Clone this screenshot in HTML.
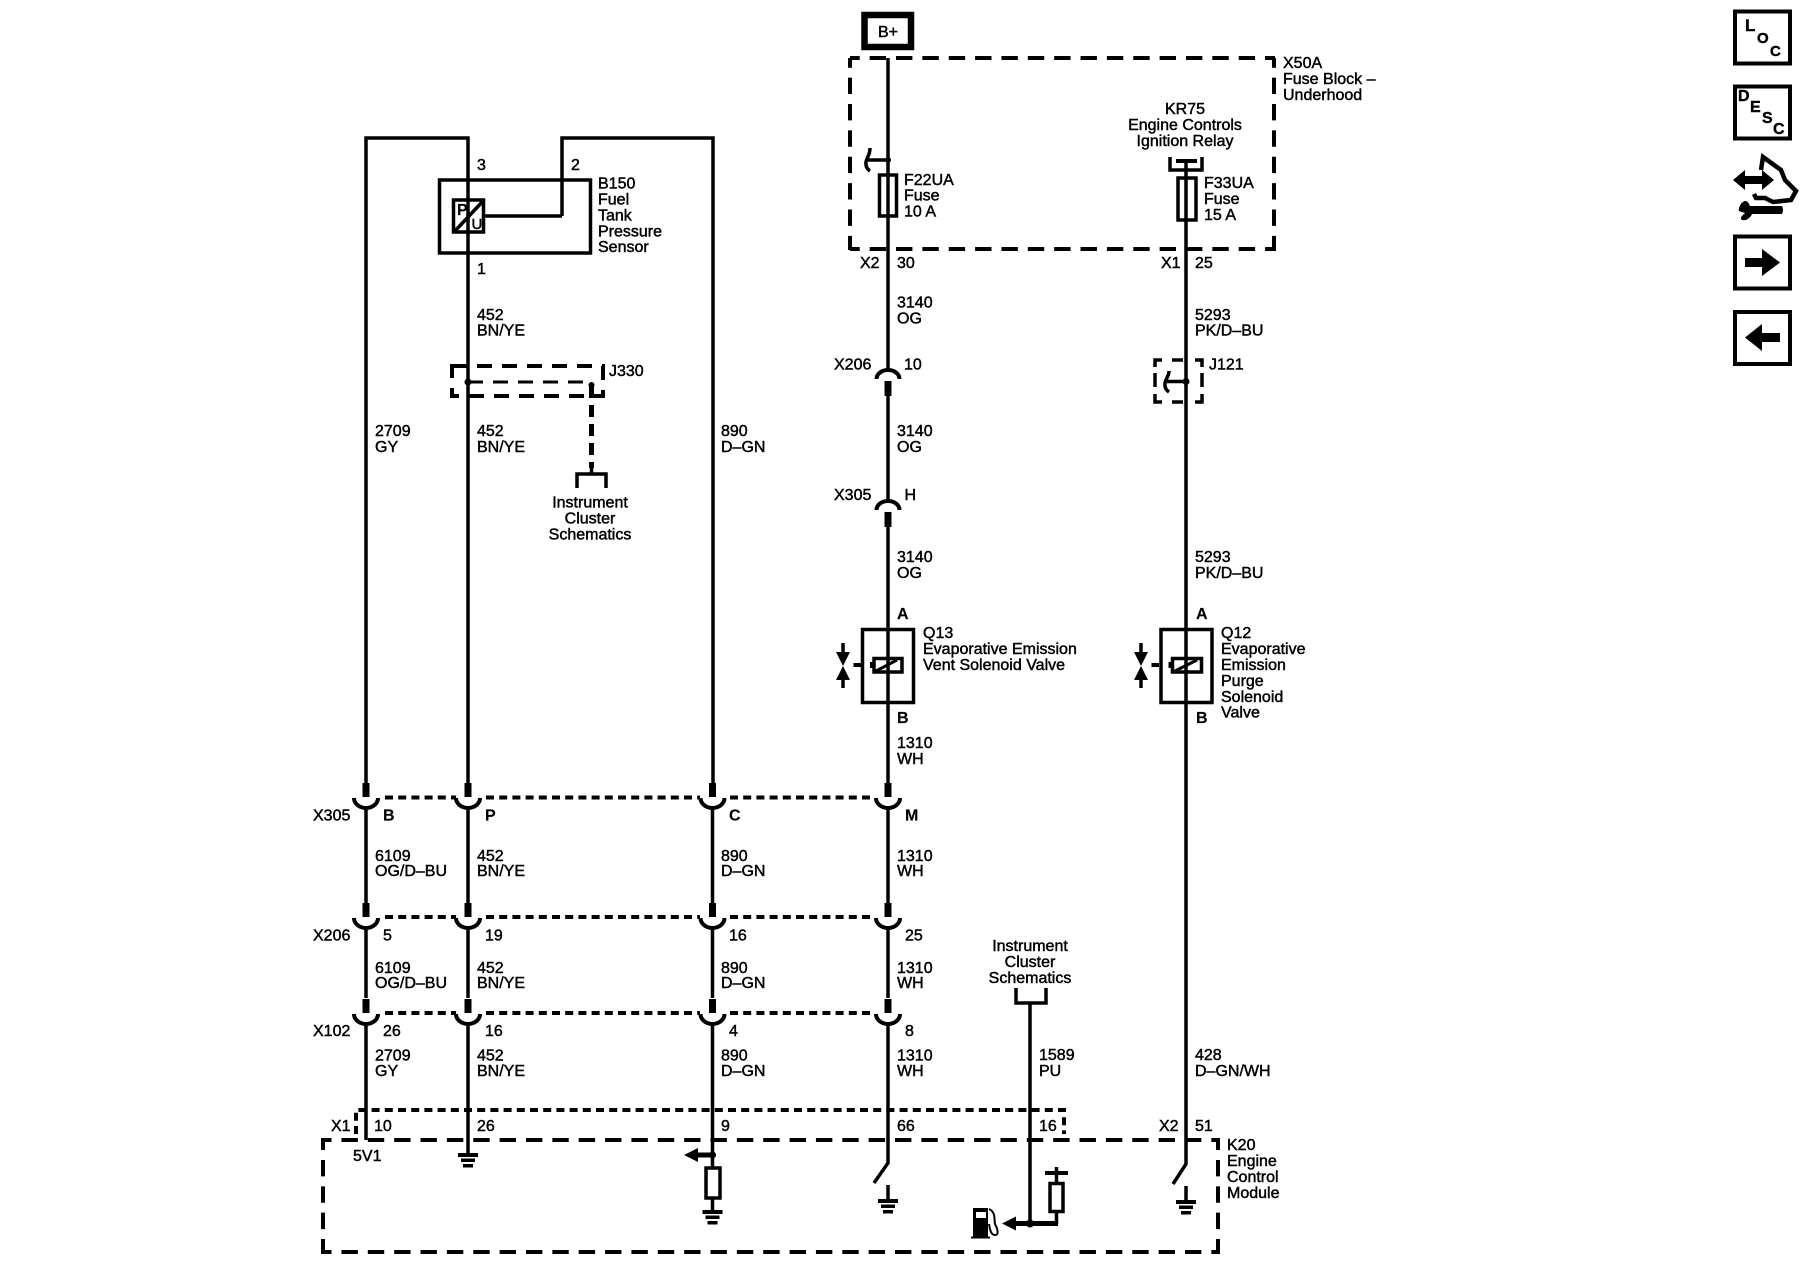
<!DOCTYPE html>
<html><head><meta charset="utf-8"><style>
html,body{margin:0;padding:0;background:#fff}
svg{display:block}
text{font-family:"Liberation Sans",sans-serif;font-size:16px;fill:#000;stroke:#000;stroke-width:.45px}
.m{text-anchor:middle}
.b{font-weight:bold;stroke-width:.15px}
.w{stroke:#000;stroke-width:3.5;fill:none}
.t{stroke:#000;stroke-width:3;fill:none}
.d{stroke:#000;stroke-width:4;fill:none;stroke-dasharray:16.4 9.96}
.s{stroke:#000;stroke-width:4;fill:none;stroke-dasharray:8 5.2}
</style></head><body>
<svg width="1800" height="1280" viewBox="0 0 1800 1280" xmlns="http://www.w3.org/2000/svg">
<defs>
<g id="sm"><rect x="-3.500" y="-14" width="7" height="14" fill="#000"/><path d="M-12 1A12 10 0 0 0 12 1" stroke="#000" stroke-width="4" fill="none"/></g>
<g id="fr"><path d="M-11.500 8A11.500 9 0 0 1 11.500 8" stroke="#000" stroke-width="4" fill="none"/><rect x="-3.500" y="10" width="7" height="15" fill="#000"/></g>
<g id="gnd"><rect x="-10" y="-2" width="20" height="4" fill="#000"/><rect x="-7" y="3.500" width="14" height="3.500" fill="#000"/><rect x="-5" y="9" width="10" height="3.500" fill="#000"/></g>
<g id="nip"><path d="M0 -23V-12" stroke="#000" stroke-width="3.500"/><path d="M-7 -14H7L0 0Z" fill="#000"/><path d="M0 22V12" stroke="#000" stroke-width="3.500"/><path d="M-7 14H7L0 0Z" fill="#000"/><path d="M10.500 -1H18" stroke="#000" stroke-width="4"/></g>
</defs>

<!-- Left wires -->
<path class="w" d="M366 783V138H468V783M562 216V138H713V783M366 808V903M366 928V998M366 1024V1140M468 808V903M468 928V998M468 1024V1154M712.500 808V903M712.500 928V998M712.500 1024V1167M712.500 1198V1211M888 808V903M888 928V998M888 1024V1163L874 1183"/>
<!-- Sensor -->
<rect x="439.500" y="180" width="151" height="73" class="w"/>
<rect x="453.500" y="200" width="30" height="32" class="w"/>
<path class="w" d="M484 216H562M454 232L484 200"/>
<text x="457" y="215" class="b">P</text><text x="471.500" y="229" style="font-size:15px">U</text>
<text x="477" y="170">3</text><text x="571" y="170">2</text><text x="477" y="274">1</text>
<text x="598" y="188.500">B150</text><text x="598" y="204.500">Fuel</text><text x="598" y="220.500">Tank</text><text x="598" y="236.500">Pressure</text><text x="598" y="252">Sensor</text>
<text x="477" y="320">452</text><text x="477" y="335.500">BN/YE</text>
<!-- J330 -->
<path d="M452 366H603V396H452Z" stroke="#000" stroke-width="4" fill="none" stroke-dasharray="15 10"/>
<path d="M468 382H592" stroke="#000" stroke-width="3" fill="none" stroke-dasharray="15 10"/>
<circle cx="468" cy="382" r="3.500"/><circle cx="591.500" cy="385" r="3"/>
<path d="M591.500 386V468" stroke="#000" stroke-width="5" stroke-dasharray="12 7" fill="none"/>
<path class="w" d="M591.500 467V474M577 488V474H606V488"/>
<text x="609" y="376">J330</text>
<text x="375" y="436">2709</text><text x="375" y="452">GY</text>
<text x="477" y="436">452</text><text x="477" y="452">BN/YE</text>
<text x="721" y="436">890</text><text x="721" y="452">D–GN</text>
<text class="m" x="590" y="507.500">Instrument</text><text class="m" x="590" y="523.500">Cluster</text><text class="m" x="590" y="539.500">Schematics</text>

<!-- B+ -->
<rect x="864.500" y="15" width="46.500" height="32" fill="none" stroke="#000" stroke-width="6.500"/>
<text class="m" x="888" y="37">B+</text>
<!-- Fuse block -->
<g class="d" style="stroke-dashoffset:6.7"><path d="M850 58H1275"/><path d="M850 58V250"/><path d="M850 249H1275"/><path d="M1274 58V251"/></g>
<text x="1283" y="68">X50A</text><text x="1283" y="84">Fuse Block –</text><text x="1283" y="100">Underhood</text>
<path class="w" d="M888 58V372M888 395V501M888 526V783M1186 159V1164L1173 1184"/>
<circle cx="888" cy="160" r="3"/>
<path class="w" d="M888 160H868M870 148C870 155 867 157 866 162C865.500 166 867 169 870 171"/>
<rect x="879.500" y="175" width="17" height="41" class="w"/>
<text x="904" y="185">F22UA</text><text x="904" y="200.500">Fuse</text><text x="904" y="216.500">10 A</text>
<text class="m" x="1185" y="114">KR75</text><text class="m" x="1185" y="130">Engine Controls</text><text class="m" x="1185" y="146">Ignition Relay</text>
<path class="w" d="M1170 157V170H1202V157"/><path d="M1176 161H1197" stroke="#000" stroke-width="4"/>
<rect x="1178" y="178" width="18" height="42" class="w"/>
<text x="1204" y="188">F33UA</text><text x="1204" y="204">Fuse</text><text x="1204" y="220">15 A</text>
<text x="860" y="268">X2</text><text x="897" y="268">30</text><text x="1161" y="268">X1</text><text x="1195" y="268">25</text>
<text x="897" y="307.500">3140</text><text x="897" y="323.500">OG</text>
<text x="1195" y="320">5293</text><text x="1195" y="335.500">PK/D–BU</text>
<text x="834" y="369.500">X206</text><text x="904" y="369.500">10</text>
<use href="#fr" x="888" y="371"/>
<!-- J121 -->
<path stroke="#000" stroke-width="3.500" fill="none" d="M1155 367V360H1162M1172 360H1183M1195 360H1202V367M1155 373V387M1202 373V387M1155 394V402H1162M1172 402H1183M1195 402H1202V394"/>
<path class="w" d="M1186 381.500H1167M1169 371C1169 376 1166 378 1165 383C1164.500 387 1166 390 1169 392"/>
<circle cx="1186" cy="381.500" r="3.500"/>
<text x="1209" y="369.500">J121</text>
<text x="897" y="436">3140</text><text x="897" y="452">OG</text>
<text x="834" y="500">X305</text><text x="904.500" y="500">H</text>
<use href="#fr" x="888" y="502"/>
<text x="897" y="562">3140</text><text x="897" y="578">OG</text>
<text x="1195" y="562">5293</text><text x="1195" y="578">PK/D–BU</text>
<!-- Q13 -->
<text x="897" y="619" class="b">A</text>
<rect x="862.500" y="629.500" width="51" height="73" class="w"/>
<rect x="874" y="658.500" width="28" height="13.500" class="w" fill="#fff"/>
<rect x="870" y="662" width="4" height="6" fill="#000"/>
<path d="M876 671L897 660" stroke="#000" stroke-width="3"/>
<use href="#nip" x="843" y="666"/>
<text x="923" y="638">Q13</text><text x="923" y="654">Evaporative Emission</text><text x="923" y="670">Vent Solenoid Valve</text>
<text x="897" y="723" class="b">B</text>
<text x="897" y="748">1310</text><text x="897" y="764">WH</text>
<!-- Q12 -->
<text x="1196" y="619" class="b">A</text>
<rect x="1161" y="629.500" width="51" height="73" class="w"/>
<rect x="1172.500" y="658.500" width="29" height="13.500" class="w"/>
<rect x="1168.500" y="662" width="4" height="6" fill="#000"/>
<path d="M1175 671L1197 660" stroke="#000" stroke-width="3"/>
<use href="#nip" x="1141" y="666"/>
<text x="1221" y="638">Q12</text><text x="1221" y="654">Evaporative</text><text x="1221" y="670">Emission</text><text x="1221" y="686">Purge</text><text x="1221" y="702">Solenoid</text><text x="1221" y="717.500">Valve</text>
<text x="1196" y="723" class="b">B</text>

<!-- Connectors -->
<g id="r1"><use href="#sm" x="366" y="797"/><use href="#sm" x="468" y="797"/><use href="#sm" x="712.500" y="797"/><use href="#sm" x="888" y="797"/></g>
<use href="#r1" y="120"/><use href="#r1" y="216"/>
<path class="s" d="M385 797.500H456M486 797.500H700M730 797.500H875M385 917H456M486 917H700M730 917H875M385 1013H456M486 1013H700M730 1013H875"/>
<text x="313" y="820.500">X305</text><text x="383" y="820.500" class="b">B</text><text x="485" y="820.500" class="b">P</text><text x="729" y="820.500" class="b">C</text><text x="905" y="820.500" class="b">M</text>
<text x="375" y="861">6109</text><text x="375" y="876">OG/D–BU</text><text x="477" y="861">452</text><text x="477" y="876">BN/YE</text><text x="721" y="861">890</text><text x="721" y="876">D–GN</text><text x="897" y="861">1310</text><text x="897" y="876">WH</text>
<text x="313" y="940.500">X206</text><text x="383" y="940.500">5</text><text x="485" y="940.500">19</text><text x="729" y="940.500">16</text><text x="905" y="940.500">25</text>
<text x="375" y="973">6109</text><text x="375" y="988">OG/D–BU</text><text x="477" y="973">452</text><text x="477" y="988">BN/YE</text><text x="721" y="973">890</text><text x="721" y="988">D–GN</text><text x="897" y="973">1310</text><text x="897" y="988">WH</text>
<text x="313" y="1036">X102</text><text x="383" y="1036">26</text><text x="485" y="1036">16</text><text x="729" y="1036">4</text><text x="905" y="1036">8</text>
<text x="375" y="1060.500">2709</text><text x="375" y="1076">GY</text><text x="477" y="1060.500">452</text><text x="477" y="1076">BN/YE</text><text x="721" y="1060.500">890</text><text x="721" y="1076">D–GN</text><text x="897" y="1060.500">1310</text><text x="897" y="1076">WH</text>

<!-- Bottom module -->
<path class="s" d="M356 1134V1110H1064V1134"/>
<g class="d"><path d="M323 1140H1218" style="stroke-dashoffset:7.900"/><path d="M323 1252H1218" style="stroke-dashoffset:7.900"/><path d="M323 1138V1254" style="stroke-dashoffset:4.400"/><path d="M1218 1138V1254" style="stroke-dashoffset:4.400"/></g>
<text x="331" y="1131">X1</text><text x="374" y="1131">10</text><text x="477" y="1131">26</text><text x="721" y="1131">9</text><text x="897" y="1131">66</text><text x="1039" y="1131">16</text><text x="1159" y="1131">X2</text><text x="1195" y="1131">51</text>
<text x="353" y="1161">5V1</text>
<text x="1227" y="1150">K20</text><text x="1227" y="1166">Engine</text><text x="1227" y="1182">Control</text><text x="1227" y="1198">Module</text>
<use href="#gnd" x="468" y="1155"/>
<path class="w" d="M712.500 1155H696" style="stroke-width:5"/><path d="M684 1155L698 1148V1162Z" fill="#000"/><circle cx="712.500" cy="1155" r="3.500"/>
<rect x="706" y="1168" width="14" height="30" class="w"/>
<use href="#gnd" x="712.500" y="1212"/>
<path class="w" d="M888 1185V1200"/><use href="#gnd" x="888" y="1201"/>
<path class="w" d="M1186 1186V1201"/><use href="#gnd" x="1186" y="1202"/>
<!-- Instrument cluster lower -->
<text class="m" x="1030" y="951">Instrument</text><text class="m" x="1030" y="967">Cluster</text><text class="m" x="1030" y="983">Schematics</text>
<path class="w" d="M1016 988V1003H1046V988M1030 1003V1223"/>
<text x="1039" y="1060">1589</text><text x="1039" y="1076">PU</text>
<text x="1195" y="1060">428</text><text x="1195" y="1076">D–GN/WH</text>
<path d="M1013 1223.500H1058" stroke="#000" stroke-width="5" fill="none"/><path class="w" d="M1056.500 1224V1212"/><path d="M1002 1223.500L1016 1216.500V1230.500Z" fill="#000"/><circle cx="1030" cy="1223.500" r="4"/>
<rect x="1050" y="1183.500" width="13" height="28" class="w"/>
<path class="w" d="M1056.500 1183V1167"/><path d="M1045 1173H1068" stroke="#000" stroke-width="4"/>
<!-- Fuel pump -->
<path d="M973 1208H988V1237H973Z" fill="#000"/><rect x="976" y="1212" width="10" height="6" fill="#fff"/>
<path d="M971 1237.500H990" stroke="#000" stroke-width="2"/>
<path d="M989 1209C996 1212 994 1220 995 1224C998 1230 999 1235 995 1235C991 1235 990 1230 989 1224" fill="none" stroke="#000" stroke-width="2"/>

<!-- Right toolbar -->
<rect x="1735" y="11.500" width="55" height="52" fill="#fff" stroke="#000" stroke-width="4"/>
<text x="1745" y="31" class="b" style="font-size:17px;stroke-width:.4px">L</text><text x="1757" y="43" class="b" style="font-size:15px;stroke-width:.4px">O</text><text x="1770" y="56" class="b" style="font-size:15px;stroke-width:.4px">C</text>
<rect x="1735" y="86.500" width="55" height="52" fill="#fff" stroke="#000" stroke-width="4"/>
<text x="1738" y="101" class="b" style="font-size:16px;stroke-width:.4px">D</text><text x="1750" y="112" class="b" style="font-size:16px;stroke-width:.4px">E</text><text x="1762" y="123" class="b" style="font-size:16px;stroke-width:.4px">S</text><text x="1773" y="134" class="b" style="font-size:16px;stroke-width:.4px">C</text>
<path d="M1733 180L1745 170V176H1762V170L1774 180L1762 190V184H1745V190Z" fill="#000"/>
<path d="M1761 170L1763 157L1781 170L1785 180L1796 191L1791 200L1773 202L1765 198H1756L1754 194" fill="none" stroke="#000" stroke-width="4.500"/>
<path d="M1750 206H1782Q1784 210 1782 214H1752C1750 219 1745 221 1742 220C1739 218 1743 215 1745 213L1739 211C1738 208 1741 202 1745 201C1748 201 1749 204 1750 206Z" fill="#000"/>
<rect x="1735" y="236.500" width="55" height="52" fill="#fff" stroke="#000" stroke-width="4"/>
<path d="M1745 258H1762V249L1780 262.500L1762 276V267H1745Z" fill="#000"/>
<rect x="1735" y="312" width="55" height="52" fill="#fff" stroke="#000" stroke-width="4"/>
<path d="M1780 333H1762V324L1745 337.500L1762 351V342H1780Z" fill="#000"/>
</svg>
</body></html>
